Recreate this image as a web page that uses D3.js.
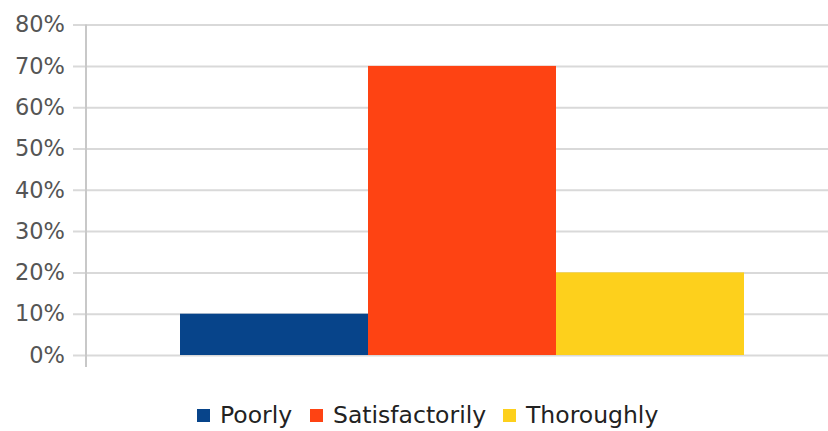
<!DOCTYPE html>
<html>
<head>
<meta charset="utf-8">
<script src="https://cdn.jsdelivr.net/npm/d3@7"></script>
<style>
  html, body { margin: 0; padding: 0; background: #fff; overflow: hidden; }
  svg { display: block; }
</style>
</head>
<body>
<svg id="chart" width="828" height="431"></svg>
<script>
const categories = ["Poorly", "Satisfactorily", "Thoroughly"];
const values = [0.10, 0.70, 0.20];
const colors = ["#07448a", "#fe4313", "#fdd01c"];
const yTicks = [0, 0.1, 0.2, 0.3, 0.4, 0.5, 0.6, 0.7, 0.8];

(function () {
const svg = d3.select("#chart");
const mLeft = 86, mRight = 838, mTop = 24.6, mBottom = 355;

const x = d3.scaleBand().domain(categories).range([mLeft, mRight]).paddingInner(0).paddingOuter(0.5);
const y = d3.scaleLinear().domain([0, 0.8]).range([mBottom, mTop]);

// gridlines + ticks
const yAxis = d3.axisLeft(y).tickValues(yTicks).tickFormat(d3.format(".0%"))
  .tickSize(-(mRight - mLeft)).tickSizeOuter(0).tickPadding(8);
const g = svg.append("g").attr("transform", `translate(${mLeft},0)`).call(yAxis);
g.select(".domain").remove();
g.selectAll(".tick line").attr("stroke", "#d9d9d9").attr("stroke-width", 2).attr("x1", -13);
g.selectAll(".tick text")
  .attr("x", -21)
  .attr("fill", "#555")
  .attr("font-family", "DejaVu Sans, sans-serif")
  .attr("font-size", 22.5);

// axis line
svg.append("line")
  .attr("x1", mLeft).attr("x2", mLeft)
  .attr("y1", mTop).attr("y2", mBottom + 12)
  .attr("stroke", "#c8c8c8").attr("stroke-width", 2);

// bars
svg.selectAll("rect.bar").data(categories).join("rect")
  .attr("class", "bar")
  .attr("x", d => x(d))
  .attr("width", x.bandwidth())
  .attr("y", (d, i) => y(values[i]))
  .attr("height", (d, i) => y(0) - y(values[i]))
  .attr("fill", (d, i) => colors[i]);

// legend
const legendX = [197, 310, 503];
const lg = svg.selectAll("g.leg").data(categories).join("g")
  .attr("class", "leg")
  .attr("transform", (d, i) => `translate(${legendX[i]},409)`);
lg.append("rect").attr("width", 13).attr("height", 13).attr("fill", (d, i) => colors[i]);
lg.append("text")
  .attr("x", 23).attr("y", 13.5)
  .attr("fill", "#222")
  .attr("font-family", "DejaVu Sans, sans-serif")
  .attr("font-size", 23.5)
  .text(d => d);
})();
</script>
</body>
</html>
